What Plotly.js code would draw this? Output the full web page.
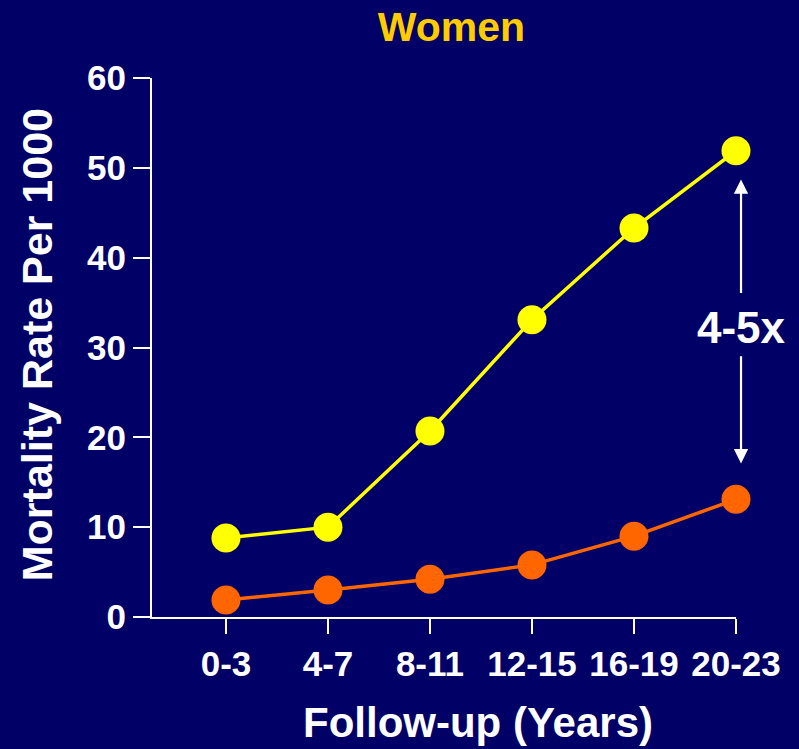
<!DOCTYPE html>
<html>
<head>
<meta charset="utf-8">
<script src="https://cdn.plot.ly/plotly-3.0.1.min.js"></script>
<style>
  html, body { margin: 0; padding: 0; background: #000066; }
  #chart { width: 799px; height: 749px; }
</style>
</head>
<body>
<div id="chart"></div>
<script>
// Data
const categories = ["0-3", "4-7", "8-11", "12-15", "16-19", "20-23"];
const highRisk = [8.8, 10.0, 20.7, 33.1, 43.3, 51.9];
const lowRisk = [1.9, 3.0, 4.2, 5.8, 9.0, 13.1];
const yTicks = [0, 10, 20, 30, 40, 50, 60];

const FONT = "Liberation Sans, Arial, sans-serif";

const traces = [
  {
    x: categories, y: highRisk, type: "scatter", mode: "lines+markers",
    line: { color: "#FFFF00", width: 3.5 },
    marker: { color: "#FFFF00", size: 29 },
    cliponaxis: false, showlegend: false, hoverinfo: "x+y"
  },
  {
    x: categories, y: lowRisk, type: "scatter", mode: "lines+markers",
    line: { color: "#FF6600", width: 3.5 },
    marker: { color: "#FF6600", size: 29 },
    cliponaxis: false, showlegend: false, hoverinfo: "x+y"
  }
];

const layout = {
  width: 799, height: 749,
  paper_bgcolor: "#000066", plot_bgcolor: "#000066",
  margin: { l: 152, r: 63, t: 78, b: 132 },
  font: { family: FONT, color: "#FFFFFF" },
  title: {
    text: "<b>Women</b>",
    font: { family: FONT, size: 41, color: "#FFCC00" },
    x: 0.565, xanchor: "center", y: 0.965, yanchor: "middle"
  },
  xaxis: {
    type: "category",
    range: [-0.725, 5],
    showgrid: false, zeroline: false,
    showline: true, linecolor: "#FFFFFF", linewidth: 2,
    ticks: "outside", ticklen: 15, tickwidth: 2, tickcolor: "#FFFFFF",
    tickfont: { family: FONT, size: 35, color: "#FFFFFF", weight: "bold" },
    automargin: false, fixedrange: true
  },
  yaxis: {
    range: [0, 60],
    tickvals: yTicks,
    showgrid: false, zeroline: false,
    showline: true, linecolor: "#FFFFFF", linewidth: 2,
    ticks: "outside", ticklen: 17, tickwidth: 2, tickcolor: "#FFFFFF",
    tickfont: { family: FONT, size: 35, color: "#FFFFFF", weight: "bold" },
    automargin: false, fixedrange: true
  },
  annotations: [
    {
      xref: "paper", yref: "paper", x: 0.558, y: -0.195,
      text: "<b>Follow-up (Years)</b>", showarrow: false,
      font: { family: FONT, size: 42, color: "#FFFFFF" },
      xanchor: "center", yanchor: "middle"
    },
    {
      xref: "paper", yref: "paper", x: -0.197, y: 0.506,
      text: "<b>Mortality Rate Per 1000</b>", showarrow: false, textangle: -90,
      font: { family: FONT, size: 43, color: "#FFFFFF" },
      xanchor: "center", yanchor: "middle"
    },
    {
      xref: "paper", yref: "y", x: 1.0086, y: 48.7,
      axref: "pixel", ayref: "y", ax: 0, ay: 35.9,
      text: "", showarrow: true, arrowhead: 2, arrowsize: 1.3, arrowwidth: 2.2, arrowcolor: "#FFFFFF"
    },
    {
      xref: "paper", yref: "y", x: 1.0086, y: 17.1,
      axref: "pixel", ayref: "y", ax: 0, ay: 29.2,
      text: "", showarrow: true, arrowhead: 2, arrowsize: 1.3, arrowwidth: 2.2, arrowcolor: "#FFFFFF"
    },
    {
      xref: "paper", yref: "y", x: 1.0086, y: 32.2,
      text: "<b>4-5x</b>", showarrow: false,
      font: { family: FONT, size: 44, color: "#FFFFFF" },
      xanchor: "center", yanchor: "middle"
    }
  ]
};

Plotly.newPlot("chart", traces, layout, { displayModeBar: false, staticPlot: true });
</script>
</body>
</html>
